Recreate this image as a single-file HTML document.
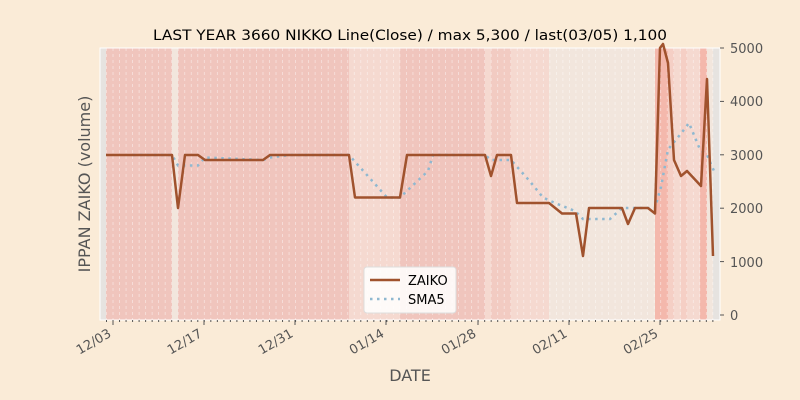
<!DOCTYPE html>
<html><head><style>body{margin:0;background:#faebd7;}svg{display:block}</style></head><body>
<svg width="800" height="400" xmlns="http://www.w3.org/2000/svg" font-family="DejaVu Sans, Liberation Sans, sans-serif">
<rect width="800" height="400" fill="#faebd7"/>
<rect x="100" y="48" width="620" height="272" fill="#e6e3e0"/>
<g>
<rect x="106" y="48" width="66" height="272" fill="#f0c5bd"/>
<rect x="172" y="48" width="6" height="272" fill="#f2e6dd"/>
<rect x="178" y="48" width="171" height="272" fill="#f0c5bd"/>
<rect x="349" y="48" width="51" height="272" fill="#f5d9d0"/>
<rect x="400" y="48" width="85" height="272" fill="#f0c5bd"/>
<rect x="485" y="48" width="6" height="272" fill="#f5d9d0"/>
<rect x="491" y="48" width="20" height="272" fill="#f2cbc2"/>
<rect x="511" y="48" width="38" height="272" fill="#f5d9d0"/>
<rect x="549" y="48" width="106" height="272" fill="#f2e6dd"/>
<rect x="655" y="48" width="13" height="272" fill="#f4b8ac"/>
<rect x="668" y="48" width="6" height="272" fill="#f5cfc5"/>
<rect x="674" y="48" width="7" height="272" fill="#f5d9d0"/>
<rect x="681" y="48" width="6" height="272" fill="#f5cfc5"/>
<rect x="687" y="48" width="13" height="272" fill="#f5d9d0"/>
<rect x="700" y="48" width="7" height="272" fill="#f4b8ac"/>
<rect x="707" y="48" width="6" height="272" fill="#f2e6dd"/>
</g>
<g stroke="#ffffff" stroke-opacity="0.5" stroke-dasharray="3,3" stroke-width="0.8" id="vg"></g>
<rect x="100" y="48" width="620" height="272" fill="none" stroke="#ffffff" stroke-width="1"/>
<polyline fill="none" stroke="#8fb8d0" stroke-width="2.5" stroke-dasharray="2.5,4.5" points="133,155 172,155 178,165.5 198,165.5 205,157.5 263,160 270,157.5 290,155 349,155 375,184 387,197.5 400,197.5 428,171 433,155 485,155 491,160 511,160 530,181.5 543,197.5 555,203 575,211 583,219 610,219 622,208 655,208 661,187 668,149.5 681,133.5 689,123 700,149.5 707,155 714,171"/>
<polyline fill="none" stroke="#a0522d" stroke-width="2.5" stroke-linejoin="round" points="106,155 172,155 178,208 185,155 198,155 205,160 263,160 270,155 349,155 355,197.5 400,197.5 407,155 485,155 491,176 497,155 511,155 517,203 549,203 562,213.5 576,213.5 583,256 589,208 622,208 628,224 635,208 648,208 655,213.5 660,48 663,44 668,63 674,160 681,176 687,171 701,186 707,79 713,256"/>
<g font-size="13" fill="#555" text-anchor="start">
<g stroke="#555"><line x1="720" y1="48" x2="724" y2="48"/><line x1="720" y1="101.4" x2="724" y2="101.4"/><line x1="720" y1="154.8" x2="724" y2="154.8"/><line x1="720" y1="208.2" x2="724" y2="208.2"/><line x1="720" y1="261.6" x2="724" y2="261.6"/><line x1="720" y1="315" x2="724" y2="315"/></g>
<text x="730" y="53">5000</text><text x="730" y="106">4000</text><text x="730" y="160">3000</text><text x="730" y="213">2000</text><text x="730" y="267">1000</text><text x="730" y="320">0</text>
</g>
<g stroke="#555" id="xt"></g>
<g font-size="13" fill="#555" text-anchor="end">
<text transform="translate(112,336) rotate(-30)">12/03</text>
<text transform="translate(203,336) rotate(-30)">12/17</text>
<text transform="translate(294,336) rotate(-30)">12/31</text>
<text transform="translate(385,336) rotate(-30)">01/14</text>
<text transform="translate(477,336) rotate(-30)">01/28</text>
<text transform="translate(568,336) rotate(-30)">02/11</text>
<text transform="translate(659,336) rotate(-30)">02/25</text>
</g>
<text x="410" y="381" font-size="16" fill="#555" text-anchor="middle">DATE</text>
<text transform="translate(90,184) rotate(-90)" font-size="16" fill="#555" text-anchor="middle">IPPAN ZAIKO (volume)</text>
<text x="410" y="40" font-size="14" fill="#000" text-anchor="middle" textLength="514" lengthAdjust="spacingAndGlyphs">LAST YEAR 3660 NIKKO Line(Close) / max 5,300 / last(03/05) 1,100</text>
<rect x="364" y="267" width="92" height="46" rx="3" fill="#fff" fill-opacity="0.85" stroke="#ddd"/>
<line x1="370" y1="280" x2="400" y2="280" stroke="#a0522d" stroke-width="2.5"/>
<line x1="370" y1="299" x2="400" y2="299" stroke="#8fb8d0" stroke-width="2.5" stroke-dasharray="2.5,4.5"/>
<text x="408" y="285" font-size="13" fill="#000">ZAIKO</text>
<text x="408" y="304" font-size="13" fill="#000">SMA5</text>
</svg>
<script>
var vg=document.getElementById('vg'),xt=document.getElementById('xt'),ns='http://www.w3.org/2000/svg';
for(var i=0;i<95;i++){var x=106.5+i*6.52;if(x>714)break;var l=document.createElementNS(ns,'line');l.setAttribute('x1',x);l.setAttribute('x2',x);l.setAttribute('y1',48);l.setAttribute('y2',320);vg.appendChild(l);
var t=document.createElementNS(ns,'line');t.setAttribute('x1',x);t.setAttribute('x2',x);t.setAttribute('y1',320);t.setAttribute('y2',322);xt.appendChild(t);}
[113,204,295,386,478,569,660].forEach(function(x){var t=document.createElementNS(ns,'line');t.setAttribute('x1',x);t.setAttribute('x2',x);t.setAttribute('y1',320);t.setAttribute('y2',325);xt.appendChild(t);});
</script>
</body></html>
